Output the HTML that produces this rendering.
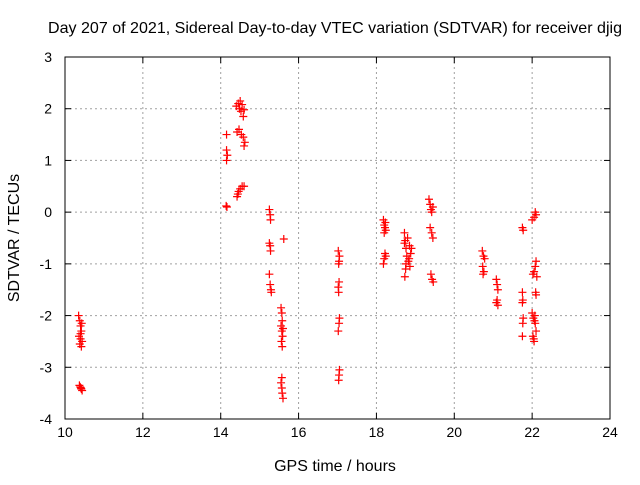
<!DOCTYPE html>
<html><head><meta charset="utf-8"><style>body{margin:0;background:#fff}svg{font-family:"Liberation Sans",sans-serif}</style></head>
<body>
<svg id="c" width="640" height="480"></svg>
<script>
const xTicks=[10,12,14,16,18,20,22,24];
const yTicks=[3,2,1,0,-1,-2,-3,-4];
const xs=[10.35,10.38,10.4,10.42,10.36,10.4,10.44,10.38,10.42,10.4,10.43,10.37,10.41,10.39,10.42,10.44,
14.15,14.15,14.17,14.15,14.16,14.14,
14.4,14.45,14.5,14.55,14.48,14.52,14.58,14.6,14.42,14.47,14.53,14.58,14.62,14.6,14.42,14.46,14.5,14.55,14.44,14.6,
15.25,15.27,15.28,15.25,15.27,15.28,15.25,15.27,15.29,15.3,
15.55,15.57,15.58,15.55,15.57,15.59,15.56,15.58,15.6,15.57,15.55,15.57,15.58,15.6,15.62,
17.02,17.05,17.04,17.03,17.04,17.02,17.03,17.02,17.04,17.05,17.03,17.04,17.05,
18.18,18.2,18.22,18.24,18.2,18.23,18.18,18.2,18.24,18.22,
18.72,18.74,18.76,18.78,18.75,18.73,18.76,18.72,18.8,18.85,18.88,18.82,18.86,18.9,18.84,
19.35,19.38,19.4,19.42,19.45,19.38,19.42,19.45,19.4,19.43,19.46,
20.72,20.75,20.78,20.73,20.76,20.74,
21.08,21.1,21.12,21.1,21.12,21.08,
21.75,21.77,21.75,21.76,21.75,21.77,21.76,21.75,
22.0,22.05,22.08,22.1,22.02,22.05,22.08,22.1,22.12,22.1,22.0,22.03,22.06,22.08,22.02,22.05,22.1,22.04,22.07,22.09];
const ys=[-2.0,-2.1,-2.2,-2.3,-2.4,-2.45,-2.5,-2.55,-2.6,-2.35,-2.15,-3.35,-3.4,-3.38,-3.42,-3.45,
1.5,1.2,1.1,1.0,0.1,0.12,
2.05,2.1,2.15,2.08,2.0,1.95,1.85,1.98,1.55,1.6,1.5,1.45,1.35,1.28,0.3,0.4,0.45,0.5,0.35,0.5,
0.05,-0.05,-0.15,-0.6,-0.65,-0.75,-1.2,-1.4,-1.5,-1.55,
-1.85,-1.95,-2.1,-2.2,-2.3,-2.4,-2.5,-2.6,-2.25,-3.2,-3.3,-3.4,-3.5,-3.6,-0.52,
-0.75,-0.85,-0.95,-1.0,-1.35,-1.45,-1.55,-2.3,-2.15,-2.05,-3.25,-3.15,-3.05,
-0.15,-0.25,-0.3,-0.35,-0.4,-0.2,-1.0,-0.9,-0.85,-0.8,
-0.4,-0.55,-0.7,-0.85,-1.1,-1.25,-1.0,-0.6,-0.5,-0.65,-0.8,-0.95,-1.05,-0.7,-0.9,
0.25,0.15,0.05,0.0,0.1,-0.3,-0.4,-0.5,-1.2,-1.3,-1.35,
-0.75,-0.85,-0.9,-1.05,-1.15,-1.2,
-1.3,-1.4,-1.5,-1.7,-1.8,-1.75,
-0.3,-0.35,-1.55,-1.7,-1.75,-2.05,-2.15,-2.4,
-0.15,-0.1,0.0,-0.05,-1.2,-1.15,-1.05,-0.95,-1.25,-1.6,-1.95,-2.05,-2.1,-2.15,-2.4,-2.5,-2.3,-2.45,-2.0,-1.55];
const X=v=>65+(v-10)*(545/14), Y=v=>57+(3-v)*(362/7);
const s=document.getElementById('c'),NS='http://www.w3.org/2000/svg';
function el(t,a,txt){const e=document.createElementNS(NS,t);for(const k in a)e.setAttribute(k,a[k]);if(txt!=null)e.textContent=txt;s.appendChild(e);return e;}
xTicks.forEach(t=>{const x=X(t);
if(t>10&&t<24){const g=el('line',{x1:x,x2:x,y1:57,y2:419,stroke:'#a0a0a0','stroke-dasharray':'2,3'});}
const l=el('text',{x:x,y:437,'text-anchor':'middle','font-size':14},t);


el('line',{x1:x,x2:x,y1:419,y2:413,stroke:'#000'});el('line',{x1:x,x2:x,y1:57,y2:63,stroke:'#000'});});
yTicks.forEach(t=>{const y=Y(t);
if(t<3&&t>-4){const g=el('line',{x1:65,x2:610,y1:y,y2:y,stroke:'#a0a0a0','stroke-dasharray':'2,3'});}
const l=el('text',{x:52,y:y+5,'text-anchor':'end','font-size':14},t);


el('line',{x1:65,x2:71,y1:y,y2:y,stroke:'#000'});el('line',{x1:610,x2:604,y1:y,y2:y,stroke:'#000'});});
const f=el('rect',{x:65,y:57,width:545,height:362,fill:'none',stroke:'#000'});


xs.forEach((v,i)=>{const x=X(v),y=Y(ys[i]);
const p=el('path',{d:`M${x-4},${y}h8M${x},${y-4}v8`,stroke:'#f00','stroke-width':1.2,fill:'none'});

});
const t=el('text',{x:335,y:33,'text-anchor':'middle','font-size':16,textLength:574,lengthAdjust:'spacingAndGlyphs'},'Day 207 of 2021, Sidereal Day-to-day VTEC variation (SDTVAR) for receiver djig');

const xt=el('text',{x:335,y:471,'text-anchor':'middle','font-size':16},'GPS time / hours');

const yt=el('text',{x:19,y:238,'text-anchor':'middle','font-size':16,transform:'rotate(-90 19 238)'},'SDTVAR / TECUs');

</script>
</body></html>
